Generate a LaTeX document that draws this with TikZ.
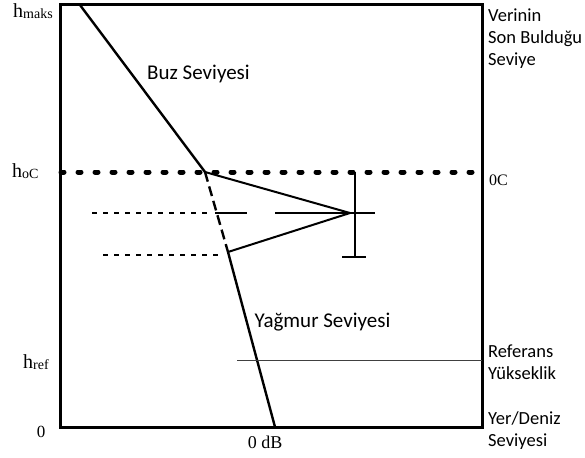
\documentclass[tikz,border=0pt]{standalone}
\usepackage{fontspec}
\setmainfont{Liberation Serif}
\newfontfamily\calfont{Carlito}
\begin{document}
\begin{tikzpicture}[x=1pt,y=-1pt,
  frame/.style={line width=3pt},
  profile/.style={line width=2.4pt},
  thin/.style={line width=1.1pt},
  calt/.style={font=\calfont\fontsize{21}{22}\selectfont, inner sep=0pt, anchor=base},
  hlab/.style={font=\fontsize{20}{20}\selectfont, inner sep=0pt, anchor=base west},
  sert/.style={inner sep=0pt},
  lbl/.style={font=\calfont\fontsize{18.5}{22}\selectfont, inner sep=0pt, align=left, anchor=north west}]
\useasboundingbox (0,0) rectangle (585,457);
% frame
\coordinate (tl) at (60,5);
\coordinate (br) at (482,427);
\draw[frame] (tl) rectangle (br);
% key points
\coordinate (top) at (80,5);
\coordinate (f0) at (205,172);
\coordinate (fb) at (228,252);
\coordinate (gnd) at (275,427);
\coordinate (apex) at (350,213);
\coordinate (c0l) at (61,172);
\coordinate (c0r) at (482,172);
% profile
\draw[profile] (top) -- (f0);
\draw[profile, dash pattern=on 10pt off 5pt] (f0) -- (fb);
\draw[profile] (fb) -- (gnd);
% 0C dotted line
\draw[line width=5pt, line cap=round, dash pattern=on 3pt off 14pt] (c0l) -- (c0r);
% triangle
\draw[line width=2pt] (f0) -- (apex) -- (fb);
% horizontal at apex
\coordinate (h1) at (215,213);
\coordinate (h2) at (247,213);
\coordinate (h3) at (275,213);
\coordinate (h4) at (375,213);
\draw[thin] (h1) -- (h2);
\draw[thin] (h3) -- (h4);
% error bar
\coordinate (eb1) at (355,172);
\coordinate (eb2) at (355,257);
\coordinate (ebl) at (342,257);
\coordinate (ebr) at (366,257);
\draw[line width=2.2pt] (eb1) -- (eb2);
\draw[line width=2.2pt] (ebl) -- (ebr);
% dashed short lines
\coordinate (d1a) at (92,213);
\coordinate (d1b) at (208,213);
\coordinate (d2a) at (103,255);
\coordinate (d2b) at (222,255);
\draw[line width=2pt, dash pattern=on 5pt off 6pt] (d1a) -- (d1b);
\draw[line width=2pt, dash pattern=on 5pt off 6pt] (d2a) -- (d2b);
% reference height line
\coordinate (r1) at (237,360);
\coordinate (r2) at (482,360);
\draw[line width=1pt, black!75] (r1) -- (r2);
% left labels
\node[hlab] (hmaks) at (13,18) {h\raisebox{-1pt}{\fontsize{14}{14}\selectfont maks}};
\node[hlab] (hoc) at (12,177) {h\raisebox{-1pt}{\fontsize{14}{14}\selectfont oC}};
\node[hlab] (href) at (23,368) {h\raisebox{-1pt}{\fontsize{14}{14}\selectfont ref}};
\node[sert, font=\fontsize{17}{18}\selectfont] (zero) at (41,432) {0};
\node[sert, font=\fontsize{18}{18}\selectfont, anchor=base] (zdb) at (265,448) {0 dB};
\node[sert, font=\fontsize{16}{18}\selectfont, anchor=west] (oc) at (489,180) {0C};
% inner labels
\node[calt] (buz) at (198.5,80) {Buz Seviyesi};
\node[calt] (yag) at (322.5,327) {Yağmur Seviyesi};
% right labels
\node[lbl] (ver) at (488,9) {Verinin\\Son Bulduğu\\Seviye};
\node[lbl] (ref) at (488,345) {Referans\\Yükseklik};
\node[lbl] (yer) at (488,411) {Yer/Deniz\\Seviyesi};
\end{tikzpicture}
\end{document}
